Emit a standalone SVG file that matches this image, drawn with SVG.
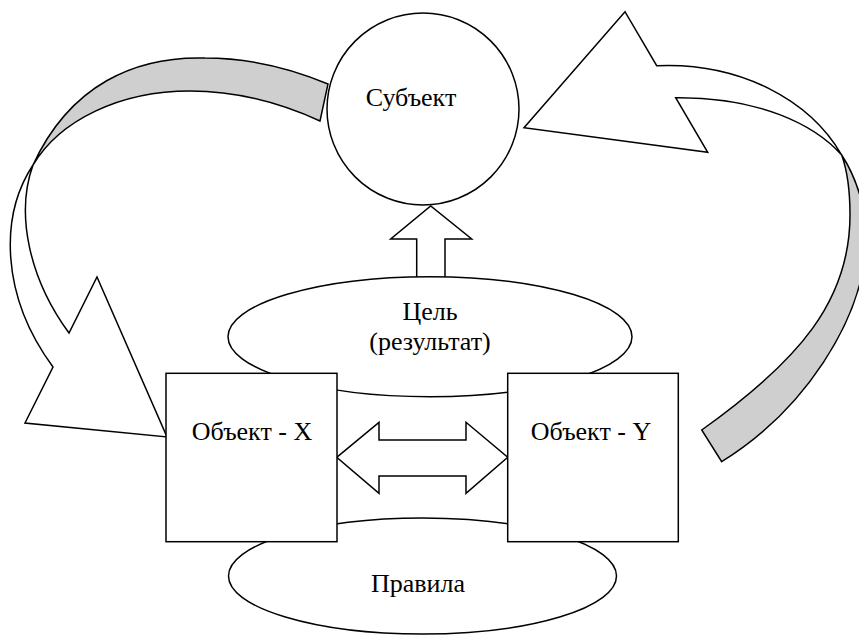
<svg xmlns="http://www.w3.org/2000/svg" width="859" height="637" viewBox="0 0 859 637">
<style>
.s{stroke:#000;stroke-width:1.5;stroke-linejoin:miter}
.w{fill:#fff}
.g{fill:#cfcfcf}
text{font-family:"Liberation Serif","Times New Roman",serif;font-size:26px;fill:#000;text-anchor:middle}
</style>
<rect width="859" height="637" fill="#fff"/>
<g id="connectors">
  <g id="arrow-left">
    <path class="s g" d="M328,84 C290,68 250,58 205,58 C135,56 70,85 33,165 C60,120 120,91 190,91 C240,91 285,105 320,121 Z"/>
    <path class="s w" d="M33,165 C0,215 0,295 53,367 L25,423 L167,437 L97,277 L69,333 C30,280 15,215 33,165 Z"/>
  </g>
  <g id="arrow-right">
    <path class="s g" d="M841.7,155 C858,180 868,215 866,245 C862,320 805,410 721.7,461.7 L701.7,430 C800,360 850,300 850,215 C850,190 847,170 841.7,155 Z"/>
    <path class="s w" d="M656.7,65.7 C740,62 810,100 841.7,155 C815,125 760,97 675.7,97.7 L707.7,152.3 L524,127.7 L625,11.7 Z"/>
  </g>
  <path id="arrow-up" class="s w" d="M416.7,285 L416.7,239 L390.7,239 L430.7,206 L471.7,239 L445,239 L445,285 Z"/>
  <path id="arrow-both" class="s w" d="M336.7,457.3 L379,422.3 L379,440 L466,440 L466,422.3 L507.7,457.3 L466,493.3 L466,476 L379,476 L379,493.3 Z"/>
</g>
<g id="goal">
  <ellipse class="s w" cx="430" cy="336.7" rx="202" ry="60"/>
  <text x="430" y="320">Цель</text>
  <text x="430" y="350">(результат)</text>
</g>
<g id="rules">
  <ellipse class="s w" cx="422.5" cy="576" rx="194" ry="58"/>
  <text x="418" y="592">Правила</text>
</g>
<g id="subject">
  <circle class="s w" cx="423" cy="109" r="96"/>
  <text x="411" y="106">Субъект</text>
</g>
<g id="object-x">
  <rect class="s w" x="166" y="373.3" width="171" height="168.4"/>
  <text x="252" y="440">Объект - X</text>
</g>
<g id="object-y">
  <rect class="s w" x="507.7" y="373.3" width="170.6" height="168.4"/>
  <text x="591" y="440">Объект - Y</text>
</g>
</svg>
